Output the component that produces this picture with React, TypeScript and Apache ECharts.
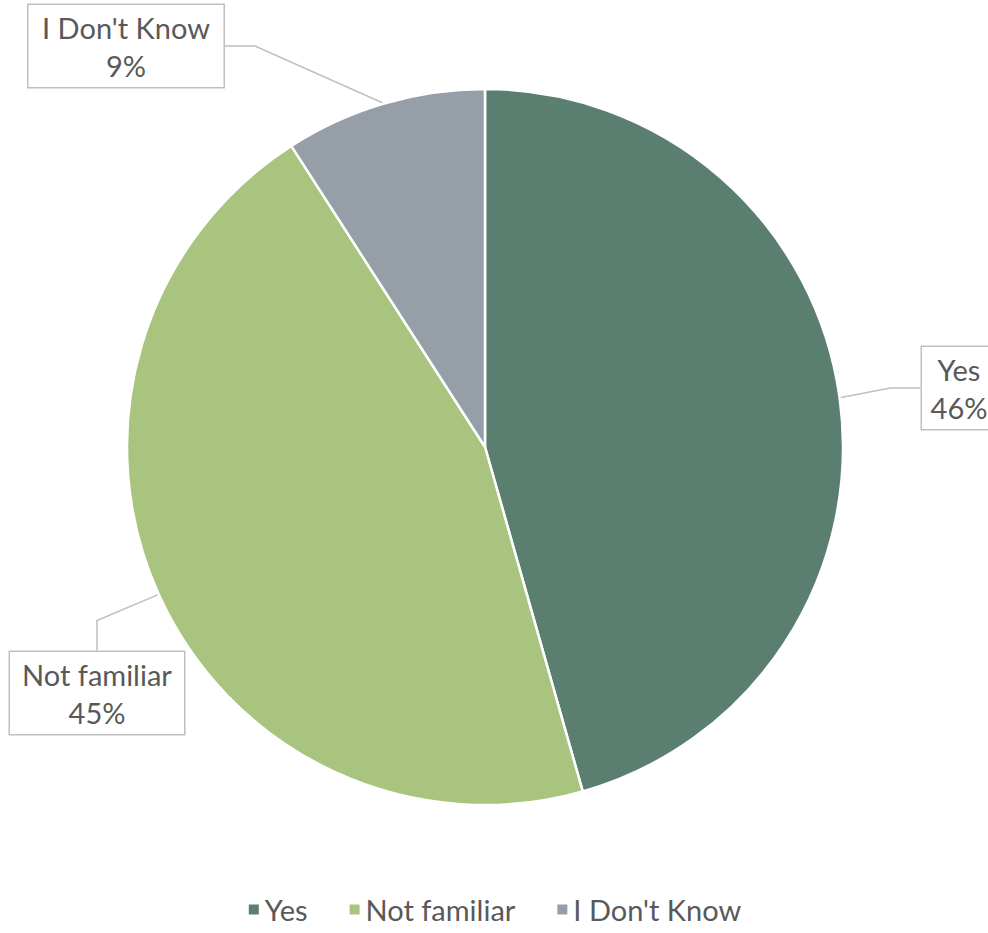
import React, { useEffect, useRef } from "react";
import * as echarts from "echarts";

const categories = ["Yes", "Not familiar", "I Don't Know"];
const values = [45.6, 45.3, 9.1];
const colors = ["#5a7f70", "#a9c47e", "#969ea8"];
// label box centres and content widths (layout only)
const labelCenters: [number, number][] = [
  [959, 388],
  [97, 693],
  [126, 46],
];
const labelWidths = [56, 156, 177];

export default function App() {
  const ref = useRef<HTMLDivElement>(null);
  useEffect(() => {
    if (!ref.current) return;
    const chart = echarts.init(ref.current, null, { renderer: "svg" });
    chart.setOption({
      animation: false,
      backgroundColor: "#ffffff",
      legend: {
        bottom: 4,
        left: "center",
        itemWidth: 12,
        itemHeight: 12,
        itemGap: 40,
        icon: "rect",
        textStyle: { fontFamily: "Lato", fontSize: 29, color: "#595959" },
        data: categories,
      },
      series: [
        {
          type: "pie",
          center: [485, 447],
          radius: 358,
          startAngle: 90,
          clockwise: true,
          itemStyle: { borderColor: "#ffffff", borderWidth: 2.5 },
          label: {
            show: true,
            formatter: (p: any) => `${p.name}\n${Math.round(p.value)}%`,
            fontFamily: "Lato",
            fontSize: 29,
            lineHeight: 38,
            color: "#595959",
            align: "center",
            overflow: "none",
            backgroundColor: "#ffffff",
            borderColor: "#bfbfbf",
            borderWidth: 1.5,
            padding: [4, 9, 2, 9],
          },
          labelLine: {
            show: true,
            lineStyle: { color: "#bfbfbf", width: 1.5 },
          },
          labelLayout: (params: any) => {
            const c = labelCenters[params.dataIndex];
            return {
              x: c[0],
              y: c[1],
              width: labelWidths[params.dataIndex],
              align: "center",
              verticalAlign: "middle",
            };
          },
          emphasis: { disabled: true },
          data: categories.map((name, i) => ({
            name,
            value: values[i],
            itemStyle: { color: colors[i] },
          })),
        },
      ],
    });
    return () => chart.dispose();
  }, []);
  return (
    <div
      ref={ref}
      style={{ position: "absolute", left: 0, top: 0, width: 988, height: 933 }}
    />
  );
}
